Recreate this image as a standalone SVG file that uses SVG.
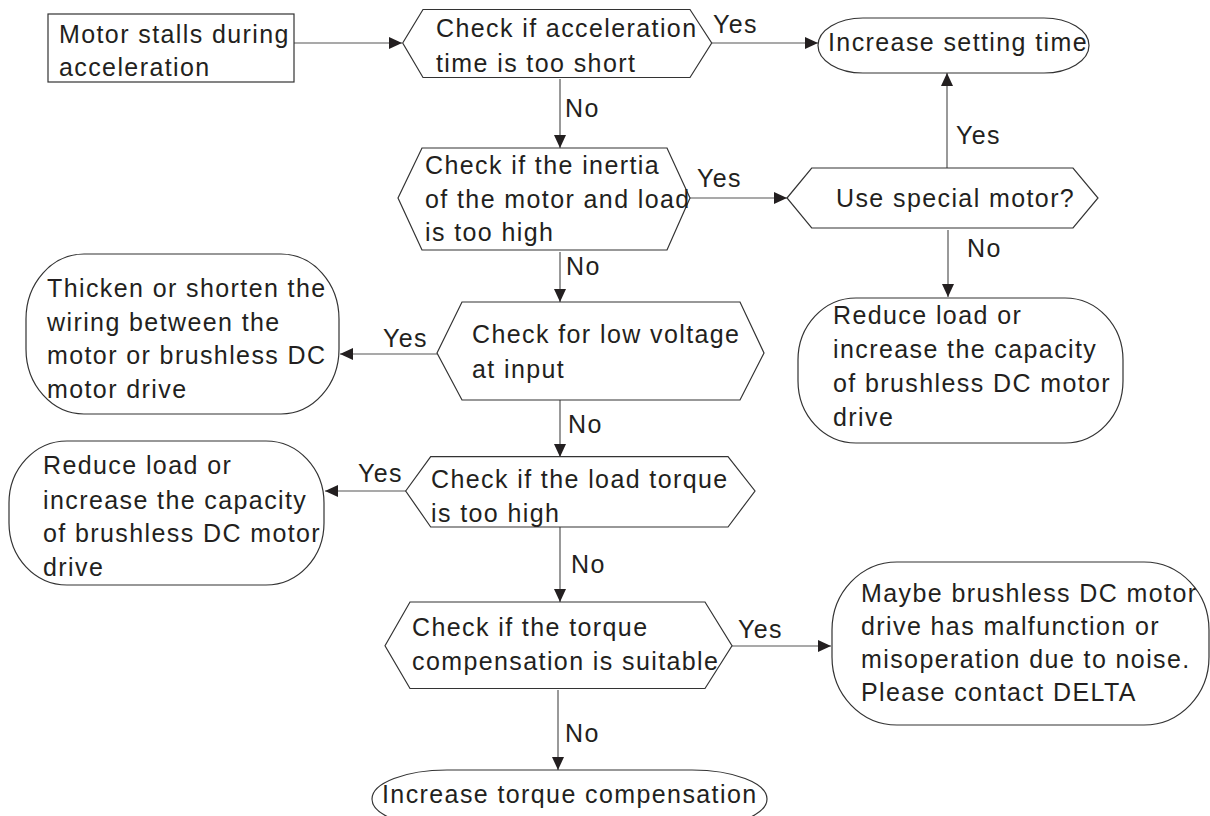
<svg xmlns="http://www.w3.org/2000/svg" width="1210" height="816" viewBox="0 0 1210 816">
<defs>
<style>
.t{font-family:"Liberation Sans",Arial,sans-serif;font-size:25px;letter-spacing:1.4px;fill:#231f20}
.s{fill:#fff;stroke:#333;stroke-width:1.2}
.c{fill:none;stroke:#555;stroke-width:1.2}
</style>
<marker id="ah" markerUnits="userSpaceOnUse" markerWidth="14" markerHeight="12" viewBox="0 0 14 12" refX="13" refY="6" orient="auto">
<path d="M0,0 L13,6 L0,12 Z" fill="#231f20"/>
</marker>
</defs>
<rect width="1210" height="816" fill="#fff"/>
<g id="connectors">
<path class="c" d="M294,43 L402,43" marker-end="url(#ah)"/>
<path class="c" d="M712,43 L818,43" marker-end="url(#ah)"/>
<path class="c" d="M560,79 L560,148" marker-end="url(#ah)"/>
<path class="c" d="M690,198 L787,198" marker-end="url(#ah)"/>
<path class="c" d="M947,168 L947,73" marker-end="url(#ah)"/>
<path class="c" d="M948,230 L948,297" marker-end="url(#ah)"/>
<path class="c" d="M560,252 L560,302" marker-end="url(#ah)"/>
<path class="c" d="M437,354 L340,354" marker-end="url(#ah)"/>
<path class="c" d="M560,400 L560,457" marker-end="url(#ah)"/>
<path class="c" d="M406,491 L325,491" marker-end="url(#ah)"/>
<path class="c" d="M560,527 L560,602" marker-end="url(#ah)"/>
<path class="c" d="M732,646 L831,646" marker-end="url(#ah)"/>
<path class="c" d="M558,690 L558,770" marker-end="url(#ah)"/>
<text class="t" x="713" y="33">Yes</text>
<text class="t" x="565" y="117">No</text>
<text class="t" x="697" y="187">Yes</text>
<text class="t" x="956" y="144">Yes</text>
<text class="t" x="967" y="257">No</text>
<text class="t" x="566" y="275">No</text>
<text class="t" x="383" y="347">Yes</text>
<text class="t" x="568" y="433">No</text>
<text class="t" x="358" y="482">Yes</text>
<text class="t" x="571" y="573">No</text>
<text class="t" x="738" y="638">Yes</text>
<text class="t" x="565" y="742">No</text>
</g>
<g id="start">
<rect class="s" x="48" y="14" width="246" height="68"/>
<text class="t" x="59" y="43">Motor stalls during</text>
<text class="t" x="59" y="76">acceleration</text>
</g>
<g id="d1">
<path class="s" d="M402.7,43 L423,9.5 L690,9.5 L711.7,43 L690,77.5 L423,77.5 Z"/>
<text class="t" x="436" y="37">Check if acceleration</text>
<text class="t" x="436" y="72">time is too short</text>
</g>
<g id="t1">
<rect class="s" x="818" y="18" width="271" height="55" rx="45" ry="27.5"/>
<text class="t" x="828" y="51">Increase setting time</text>
</g>
<g id="d2">
<path class="s" d="M398,198 L422,148 L667,148 L690,198 L667,250 L422,250 Z"/>
<text class="t" x="425" y="174">Check if the inertia</text>
<text class="t" x="425" y="208">of the motor and load</text>
<text class="t" x="425" y="241">is too high</text>
</g>
<g id="d3">
<path class="s" d="M787,198 L811.7,168 L1073,168 L1098,198 L1073,228 L811.7,228 Z"/>
<text class="t" x="836" y="207">Use special motor?</text>
</g>
<g id="t2">
<rect class="s" x="798" y="298" width="325" height="145" rx="58" ry="62"/>
<text class="t" x="833" y="324">Reduce load or</text>
<text class="t" x="833" y="358">increase the capacity</text>
<text class="t" x="833" y="392">of brushless DC motor</text>
<text class="t" x="833" y="426">drive</text>
</g>
<g id="d4">
<path class="s" d="M437,353 L462,302 L740,302 L764,353 L740,400 L462,400 Z"/>
<text class="t" x="472" y="343">Check for low voltage</text>
<text class="t" x="472" y="378">at input</text>
</g>
<g id="t3">
<rect class="s" x="26" y="254" width="313" height="160" rx="58" ry="65"/>
<text class="t" x="47" y="297">Thicken or shorten the</text>
<text class="t" x="47" y="331">wiring between the</text>
<text class="t" x="47" y="364">motor or brushless DC</text>
<text class="t" x="47" y="398">motor drive</text>
</g>
<g id="d5">
<path class="s" d="M405.7,491 L430.7,456.7 L728,456.7 L755,491 L728,527 L430.7,527 Z"/>
<text class="t" x="431" y="488">Check if the load torque</text>
<text class="t" x="431" y="522">is too high</text>
</g>
<g id="t4">
<rect class="s" x="9" y="441" width="315" height="144" rx="58" ry="62"/>
<text class="t" x="43" y="474">Reduce load or</text>
<text class="t" x="43" y="509">increase the capacity</text>
<text class="t" x="43" y="542">of brushless DC motor</text>
<text class="t" x="43" y="576">drive</text>
</g>
<g id="d6">
<path class="s" d="M385,645.7 L410,602 L705,602 L732,645.7 L705,688.5 L410,688.5 Z"/>
<text class="t" x="412" y="636">Check if the torque</text>
<text class="t" x="412" y="670">compensation is suitable</text>
</g>
<g id="t5">
<rect class="s" x="832" y="562" width="377" height="163" rx="65" ry="68"/>
<text class="t" x="861" y="602">Maybe brushless DC motor</text>
<text class="t" x="861" y="635">drive has malfunction or</text>
<text class="t" x="861" y="668">misoperation due to noise.</text>
<text class="t" x="861" y="701">Please contact DELTA</text>
</g>
<g id="t6">
<rect class="s" x="372" y="770" width="395" height="58" rx="75" ry="29"/>
<text class="t" x="382" y="803">Increase torque compensation</text>
</g>
</svg>
